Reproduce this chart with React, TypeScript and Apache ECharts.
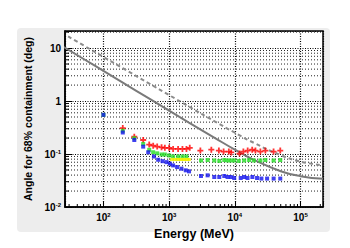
import React, { useEffect, useRef } from "react";
import * as echarts from "echarts";

// Data
const redEnergy = [197, 295, 403, 498, 572, 658, 767, 861, 1000, 1150, 1370, 1595, 1835, 2060, 2990, 4390, 5720, 6750, 8110, 8820, 11800, 13500, 15700, 18400, 20600, 24500, 29200, 38900, 49200];
const redAngle = [0.309, 0.212, 0.184, 0.151, 0.144, 0.138, 0.134, 0.131, 0.131, 0.125, 0.125, 0.125, 0.125, 0.131, 0.116, 0.121, 0.116, 0.111, 0.111, 0.107, 0.102, 0.111, 0.116, 0.121, 0.116, 0.111, 0.116, 0.111, 0.116];

const greenEnergy = [100, 197, 295, 403, 498, 572, 658, 767, 861, 1000, 1150, 1370, 1595, 1835, 3055, 3855, 4870, 5800, 6910, 7750, 8700, 9790, 11500, 13900, 16500, 19500, 24500, 29200, 38900, 49200];
const greenAngle = [0.55, 0.275, 0.199, 0.155, 0.12, 0.108, 0.103, 0.098, 0.098, 0.094, 0.09, 0.09, 0.09, 0.09, 0.0756, 0.077, 0.0756, 0.074, 0.077, 0.0756, 0.0756, 0.0756, 0.074, 0.0756, 0.077, 0.0756, 0.0756, 0.077, 0.0756, 0.077];

const yellowEnergy = [1100, 1200, 1300, 1400, 1500, 1600, 1700, 1800, 1900, 2000];
const yellowAngle = [0.079, 0.079, 0.079, 0.079, 0.079, 0.079, 0.079, 0.079, 0.079, 0.079];

const blueEnergy = [100, 197, 295, 403, 481, 587, 681, 794, 914, 1027, 1150, 1322, 1541, 1791, 2010, 3055, 3855, 4870, 5800, 6910, 7750, 8700, 9790, 12300, 13900, 15600, 18500, 21800, 25400, 31000, 39000, 49200];
const blueAngle = [0.55, 0.255, 0.184, 0.138, 0.108, 0.0898, 0.078, 0.0733, 0.0703, 0.0656, 0.061, 0.0567, 0.0529, 0.0492, 0.0471, 0.0385, 0.0396, 0.0368, 0.0368, 0.0385, 0.0368, 0.0368, 0.0353, 0.0353, 0.0368, 0.0353, 0.0368, 0.0353, 0.0344, 0.0344, 0.0344, 0.0344];

const solidEnergy = [25, 50, 100, 200, 500, 1000, 2000, 5000, 10000, 20000, 50000, 100000, 220000];
const solidAngle = [10.46, 6.22, 3.7, 2.2, 1.107, 0.658, 0.392, 0.2, 0.121, 0.0766, 0.0474, 0.0382, 0.034];

const dashedEnergy = [29, 50, 100, 200, 500, 1000, 2000, 5000, 10000, 20000, 50000, 100000, 200000];
const dashedAngle = [16.6, 11.2, 6.8, 4.13, 2.13, 1.295, 0.787, 0.41, 0.253, 0.16, 0.095, 0.072, 0.062];

const X_MIN = 26;
const X_MAX = 220000;
const Y_MIN = 0.01;
const Y_MAX = 21;

const xDecades = [10, 100, 1000, 10000, 100000];
const yDecades = [0.01, 0.1, 1, 10];
const multipliers = [2, 3, 4, 5, 6, 7, 8, 9];

const pairs = (xs: number[], ys: number[]) => xs.map((x, i) => [x, ys[i]]);

export default function App() {
  const ref = useRef<HTMLDivElement>(null);
  useEffect(() => {
    if (!ref.current) return;
    const chart = echarts.init(ref.current, null, { renderer: "svg" });

    const yMinor: number[][] = [];
    yDecades.forEach((d) => multipliers.forEach((m) => {
      const v = d * m;
      if (v > Y_MIN && v < Y_MAX) yMinor.push([X_MIN, v]);
    }));
    const xMinor: number[][] = [];
    xDecades.forEach((d) => multipliers.forEach((m) => {
      const v = d * m;
      if (v > X_MIN && v < X_MAX) xMinor.push([v, Y_MIN]);
    }));

    const isDecade = (v: number) => {
      const lg = Math.log10(v);
      return Math.abs(lg - Math.round(lg)) < 1e-6;
    };
    const rich = {
      b: { fontSize: 10, fontWeight: "bold", fontFamily: "Liberation Sans", color: "#000" },
      s: { fontSize: 6, fontWeight: "bold", fontFamily: "Liberation Sans", color: "#000", verticalAlign: "top", padding: [0, 0, 5, 0] },
    };

    const plus = "path://M3.5 0h3v3.5h3.5v3H6.5v3.5h-3V6.5H0v-3h3.5z";

    chart.setOption({
      animation: false,
      graphic: [
        {
          type: "rect",
          shape: { x: 17, y: 28, width: 313, height: 204, r: 4 },
          style: { fill: "#ededed" },
          z: -10,
          silent: true,
        },
      ],
      grid: {
        left: 65,
        right: 27,
        top: 31,
        bottom: 41,
        show: true,
        backgroundColor: "#ffffff",
        borderColor: "#000",
        borderWidth: 1.5,
        z: 0,
      },
      xAxis: {
        type: "log",
        logBase: 10,
        min: X_MIN,
        max: X_MAX,
        name: "Energy (MeV)",
        nameLocation: "middle",
        nameGap: 14,
        nameTextStyle: { fontSize: 12.5, fontWeight: "bold", fontFamily: "Liberation Sans", color: "#000" },
        axisLine: { show: true, lineStyle: { color: "#000", width: 1.5 } },
        axisTick: { show: true, inside: true, length: 6, lineStyle: { color: "#000" } },
        axisLabel: {
          margin: 5,
          formatter: (v: number) => (isDecade(v) ? `{b|10}{s|${Math.round(Math.log10(v))}}` : ""),
          rich,
        },
        splitLine: { show: true, lineStyle: { color: "#000", type: [1, 1.5], width: 1.2 } },
      },
      yAxis: {
        type: "log",
        logBase: 10,
        min: Y_MIN,
        max: Y_MAX,
        name: "Angle for 68% containment (deg)",
        nameLocation: "middle",
        nameGap: 24,
        nameTextStyle: { fontSize: 10.5, fontWeight: "bold", fontFamily: "Liberation Sans", color: "#000" },
        axisLine: { show: true, lineStyle: { color: "#000", width: 1.5 } },
        axisTick: { show: true, inside: true, length: 7, lineStyle: { color: "#000" } },
        axisLabel: {
          margin: 4,
          formatter: (v: number) => {
            if (!isDecade(v)) return "";
            const lg = Math.round(Math.log10(v));
            if (lg === 1) return "{b|10}";
            if (lg === 0) return "{b|1}";
            return `{b|10}{s|${lg}}`;
          },
          rich,
        },
        splitLine: { show: true, lineStyle: { color: "#000", type: [1, 1.5], width: 1.2 } },
      },
      series: [
        {
          type: "custom",
          coordinateSystem: "cartesian2d",
          silent: true,
          z: 1,
          data: yMinor,
          renderItem: (params: any, api: any) => {
            const v = api.value(1);
            const p1 = api.coord([X_MIN, v]);
            const p2 = api.coord([X_MAX, v]);
            return {
              type: "group",
              children: [
                { type: "line", shape: { x1: p1[0], y1: p1[1], x2: p2[0], y2: p2[1] }, style: { stroke: "#222", lineWidth: 1, lineDash: [1, 2] } },
                { type: "line", shape: { x1: p1[0], y1: p1[1], x2: p1[0] + 4, y2: p1[1] }, style: { stroke: "#000", lineWidth: 1 } },
              ],
            };
          },
        },
        {
          type: "custom",
          coordinateSystem: "cartesian2d",
          silent: true,
          z: 1,
          data: xMinor,
          renderItem: (params: any, api: any) => {
            const v = api.value(0);
            const p = api.coord([v, Y_MIN]);
            return { type: "line", shape: { x1: p[0], y1: p[1], x2: p[0], y2: p[1] - 3 }, style: { stroke: "#000", lineWidth: 1 } };
          },
        },
        {
          type: "line",
          data: pairs(dashedEnergy, dashedAngle),
          smooth: true,
          symbol: "none",
          lineStyle: { color: "#8c8c8c", width: 2, type: [4, 3] },
          z: 2,
        },
        {
          type: "line",
          data: pairs(solidEnergy, solidAngle),
          smooth: true,
          symbol: "none",
          lineStyle: { color: "#7a7a7a", width: 2 },
          z: 2,
        },
        {
          type: "scatter",
          data: pairs(redEnergy, redAngle),
          symbol: plus,
          symbolSize: 6,
          itemStyle: { color: "#ff0000" },
          z: 3,
        },
        {
          type: "scatter",
          data: pairs(greenEnergy, greenAngle),
          symbol: "rect",
          symbolSize: 4,
          itemStyle: { color: "#22dd22" },
          z: 4,
        },
        {
          type: "scatter",
          data: pairs(yellowEnergy, yellowAngle),
          symbol: "rect",
          symbolSize: [4, 3],
          itemStyle: { color: "#f2f200" },
          z: 5,
        },
        {
          type: "scatter",
          data: pairs(blueEnergy, blueAngle),
          symbol: "rect",
          symbolSize: 4,
          itemStyle: { color: "#1010ee" },
          z: 6,
        },
      ],
    });
    return () => chart.dispose();
  }, []);
  return <div ref={ref} style={{ position: "fixed", left: 0, top: 0, width: 350, height: 248, background: "#fff" }} />;
}
